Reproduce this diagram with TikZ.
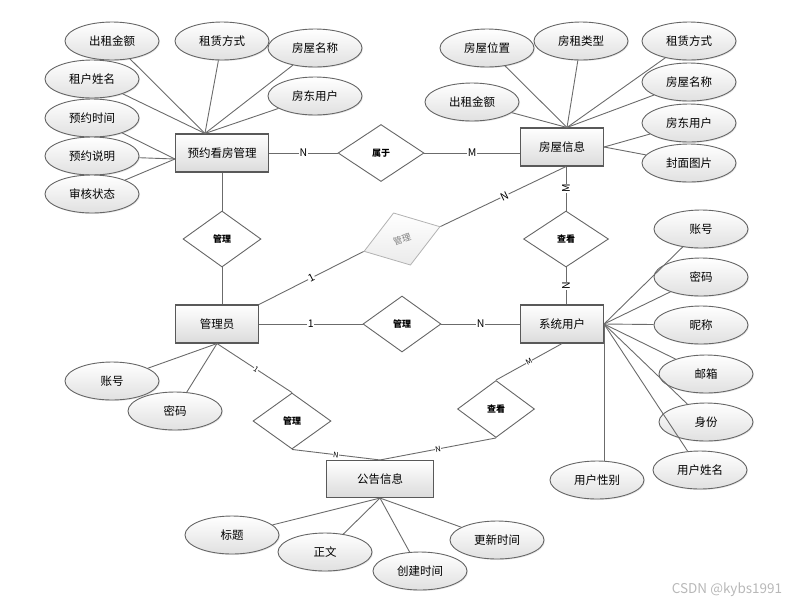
\documentclass[tikz,border=0pt]{standalone}
\usepackage{fontspec}
\setmainfont{Noto Sans CJK SC}
\usetikzlibrary{shapes.geometric,shadows,calc}
\begin{document}
\begin{tikzpicture}[x=1pt,y=-1pt,
  ent/.style={rectangle, draw=black!65, line width=1.1pt, top color=white, bottom color=black!14,
    minimum height=38pt, inner sep=0pt, font=\fontsize{11.5}{12}\selectfont},
  attr/.style={ellipse, draw=black!60, line width=0.9pt, top color=white, bottom color=black!12,
    minimum width=94pt, minimum height=38pt, inner sep=0pt, font=\fontsize{11.5}{12}\selectfont,
    drop shadow={shadow xshift=1pt, shadow yshift=-1pt, opacity=0.18, fill=black!50}},
  rel/.style={diamond, draw=black!60, line width=0.9pt, fill=white, minimum width=78pt,
    minimum height=56pt, inner sep=0pt, font=\bfseries\fontsize{9}{10}\selectfont},
  grel/.style={diamond, draw=black!30, line width=0.8pt, top color=white, bottom color=black!8,
    minimum width=80pt, minimum height=55pt, inner sep=0pt, text=black!50, font=\fontsize{9}{10}\selectfont},
  conn/.style={draw=black!58, line width=0.9pt},
  lab/.style={fill=white, inner sep=0.6pt, font=\fontsize{10.5}{11}\selectfont},
  slab/.style={fill=white, inner sep=0.3pt, font=\fontsize{7.5}{8}\selectfont},
]
\useasboundingbox (0,0) rectangle (805,606);

% entities
\node[ent, minimum width=93pt] (r1) at (222,153) {预约看房管理};
\node[ent, minimum width=83pt] (h)  at (562,147) {房屋信息};
\node[ent, minimum width=83pt] (su) at (562,324) {系统用户};
\node[ent, minimum width=83pt] (ad) at (217,324) {管理员};
\node[ent, minimum width=107pt, minimum height=37pt] (n) at (380,479) {公告信息};

% relationships
\node[rel, minimum width=86pt, minimum height=57pt] (sy) at (381,153) {属于};
\node[rel] (m1) at (222,239) {管理};
\node[rel, minimum width=85pt] (ck1) at (566,239) {查看};
\node[rel] (m2) at (402,324) {管理};
\node[grel, rotate=18] (gm) at (402,239) {管理};
\node[rel] (m3) at (292,421) {管理};
\node[rel, minimum width=77pt, minimum height=57pt] (ck2) at (496,409) {查看};

% attributes of 预约看房管理
\node[attr] (a1) at (112,41) {出租金额};
\node[attr] (a2) at (222,41) {租赁方式};
\node[attr] (a3) at (315,48) {房屋名称};
\node[attr] (a4) at (92,79) {租户姓名};
\node[attr] (a5) at (315,96) {房东用户};
\node[attr] (a6) at (92,118) {预约时间};
\node[attr] (a7) at (92,156) {预约说明};
\node[attr] (a8) at (92,194) {审核状态};
\coordinate (r1top) at ($(r1.north west)+(30,0)$);
\coordinate (r1left) at ($(r1.west)+(0,6)$);
\foreach \a in {a1,a2,a3,a4,a5} \draw[conn] (\a) -- (r1top);
\foreach \a in {a6,a7,a8} \draw[conn] (\a) -- (r1left);

% attributes of 房屋信息
\node[attr] (b1) at (487,48) {房屋位置};
\node[attr] (b2) at (581,41) {房租类型};
\node[attr] (b3) at (689,41) {租赁方式};
\node[attr] (b4) at (689,82) {房屋名称};
\node[attr] (b5) at (472,102) {出租金额};
\node[attr] (b6) at (689,123) {房东用户};
\node[attr] (b7) at (689,163) {封面图片};
\coordinate (htop) at ($(h.north)+(5,0)$);
\coordinate (hbot) at ($(h.south)+(4,0)$);
\foreach \a in {b1,b2,b3,b4,b5} \draw[conn] (\a) -- (htop);
\foreach \a in {b6,b7} \draw[conn] (\a) -- (h.east);

% attributes of 系统用户
\node[attr] (c1) at (701,229) {账号};
\node[attr] (c2) at (701,277) {密码};
\node[attr] (c3) at (701,325) {昵称};
\node[attr] (c4) at (706,374) {邮箱};
\node[attr] (c5) at (706,422) {身份};
\node[attr] (c6) at (700,470) {用户姓名};
\node[attr] (c7) at (597,480) {用户性别};
\foreach \a in {c1,c2,c3,c4,c5,c6} \draw[conn] (\a) -- (su.east);
\draw[conn] (su.east) -- (su.east |- c7.north);

% attributes of 管理员
\node[attr] (d1) at (112,381) {账号};
\node[attr] (d2) at (175,411) {密码};
\foreach \a in {d1,d2} \draw[conn] (\a) -- (ad.south);

% attributes of 公告信息
\node[attr] (e1) at (232,535) {标题};
\node[attr] (e2) at (325,552) {正文};
\node[attr] (e3) at (420,571) {创建时间};
\node[attr] (e4) at (497,540) {更新时间};
\foreach \a in {e1,e2,e3,e4} \draw[conn] (\a) -- (n.south);

% relationship connectors
\draw[conn] (r1.east) -- node[lab]{N} (sy.west);
\draw[conn] (sy.east) -- node[lab]{M} (sy.east -| h.west);
\draw[conn] (r1.south -| m1.north) -- (m1.north);
\draw[conn] (m1.south) -- (m1.south |- ad.north);
\draw[conn] (hbot) -- node[lab, rotate=90]{M} (ck1.north);
\draw[conn] (ck1.south) -- node[lab, rotate=90]{N} (ck1.south |- su.north);
\draw[conn] (ad.east) -- node[lab]{1} (m2.west);
\draw[conn] (m2.east) -- node[lab]{N} (su.west);
\draw[conn] (ad.north east) -- node[lab, sloped]{1} (gm.west);
\draw[conn] (gm.east) -- node[lab, sloped, pos=0.51]{N} (hbot);
\draw[conn] (ad.south) -- node[slab, sloped, pos=0.52]{1} (m3.north);
\draw[conn] (m3.south) -- node[slab, sloped]{N} (n.north);
\draw[conn] (su.south) -- node[slab, sloped]{M} (ck2.north);
\draw[conn] (ck2.south) -- node[slab, sloped]{N} (n.north);

% watermark
\node[text=black!28, font=\fontsize{13.5}{14}\selectfont, inner sep=0pt] (wm) at (727,590) {CSDN @kybs1991};
\end{tikzpicture}
\end{document}
